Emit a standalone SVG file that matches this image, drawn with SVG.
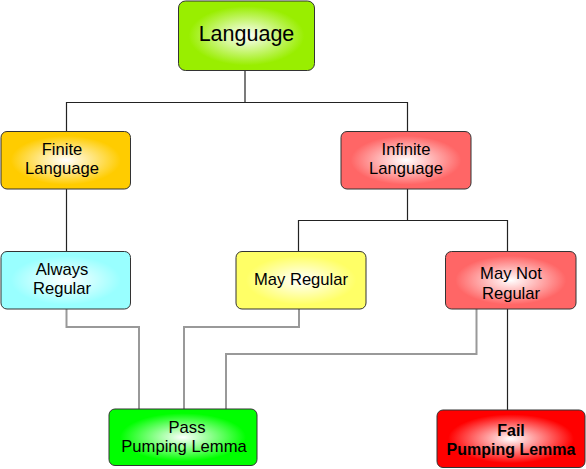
<svg xmlns="http://www.w3.org/2000/svg" width="586" height="469" viewBox="0 0 586 469">
<style>
.n{stroke:#333;stroke-width:1}
.t{font-family:"Liberation Sans",Arial,sans-serif;font-size:16.6px;fill:#000;text-anchor:middle}
.b{font-weight:bold;font-size:16px}
.c{fill:none;stroke:#222;stroke-width:1.2}
.g{fill:none;stroke:#999;stroke-width:2}
</style>
<defs>
<radialGradient id="gLang"><stop offset="0" stop-color="#fff"/><stop offset="0.85" stop-color="#99ee00"/></radialGradient>
<radialGradient id="gFin"><stop offset="0" stop-color="#fff"/><stop offset="0.85" stop-color="#ffcc00"/></radialGradient>
<radialGradient id="gInf"><stop offset="0" stop-color="#fff"/><stop offset="0.85" stop-color="#ff6666"/></radialGradient>
<radialGradient id="gAlw"><stop offset="0" stop-color="#fff"/><stop offset="0.85" stop-color="#99ffff"/></radialGradient>
<radialGradient id="gMay"><stop offset="0" stop-color="#fff"/><stop offset="0.85" stop-color="#ffff66"/></radialGradient>
<radialGradient id="gPass"><stop offset="0" stop-color="#fff"/><stop offset="0.85" stop-color="#00ff00"/></radialGradient>
<radialGradient id="gFail"><stop offset="0" stop-color="#fff"/><stop offset="0.85" stop-color="#ff0000"/></radialGradient>
</defs>
<g id="connectors">
<polyline class="c" points="245,71 245,102.5"/>
<polyline class="c" points="66.5,131 66.5,102.5 407.5,102.5 407.5,131"/>
<polyline class="c" points="66.5,189 66.5,252"/>
<polyline class="c" points="407.5,189 407.5,220.5"/>
<polyline class="c" points="298.5,252 298.5,220.5 507.5,220.5 507.5,252"/>
<polyline class="g" points="66.5,309 66.5,327 139,327 139,409"/>
<polyline class="g" points="299,309 299,327 184,327 184,409"/>
<polyline class="g" points="476.5,309 476.5,354 226,354 226,409"/>
<polyline class="c" points="507.5,309 507.5,410"/>
</g>
<g id="language"><rect class="n" x="178.5" y="1" width="136" height="69.5" rx="7" fill="url(#gLang)"/><text class="t" x="246.5" y="41" style="font-size:21.5px">Language</text></g>
<g id="finite"><rect class="n" x="1" y="131.5" width="129.5" height="57.5" rx="6" fill="url(#gFin)"/><text class="t" x="62" y="155">Finite</text><text class="t" x="62" y="174">Language</text></g>
<g id="infinite"><rect class="n" x="341" y="131.5" width="130" height="57.5" rx="6" fill="url(#gInf)"/><text class="t" x="406" y="155">Infinite</text><text class="t" x="406" y="174">Language</text></g>
<g id="always"><rect class="n" x="1" y="251.5" width="129.5" height="57.5" rx="6" fill="url(#gAlw)"/><text class="t" x="62" y="275">Always</text><text class="t" x="62" y="294">Regular</text></g>
<g id="mayregular"><rect class="n" x="236" y="251.5" width="130" height="57.5" rx="6" fill="url(#gMay)"/><text class="t" x="301" y="285">May Regular</text></g>
<g id="maynot"><rect class="n" x="445.5" y="251.5" width="130.5" height="57.5" rx="6" fill="url(#gInf)"/><text class="t" x="511" y="279">May Not</text><text class="t" x="511" y="299">Regular</text></g>
<g id="pass"><rect class="n" x="109" y="409" width="148" height="56.5" rx="6" fill="url(#gPass)"/><text class="t" x="187" y="433">Pass</text><text class="t" x="184" y="452">Pumping Lemma</text></g>
<g id="fail"><rect class="n" x="437" y="410" width="148" height="57.5" rx="6" fill="url(#gFail)"/><text class="t b" x="511" y="436">Fail</text><text class="t b" x="511" y="455">Pumping Lemma</text></g>
</svg>
